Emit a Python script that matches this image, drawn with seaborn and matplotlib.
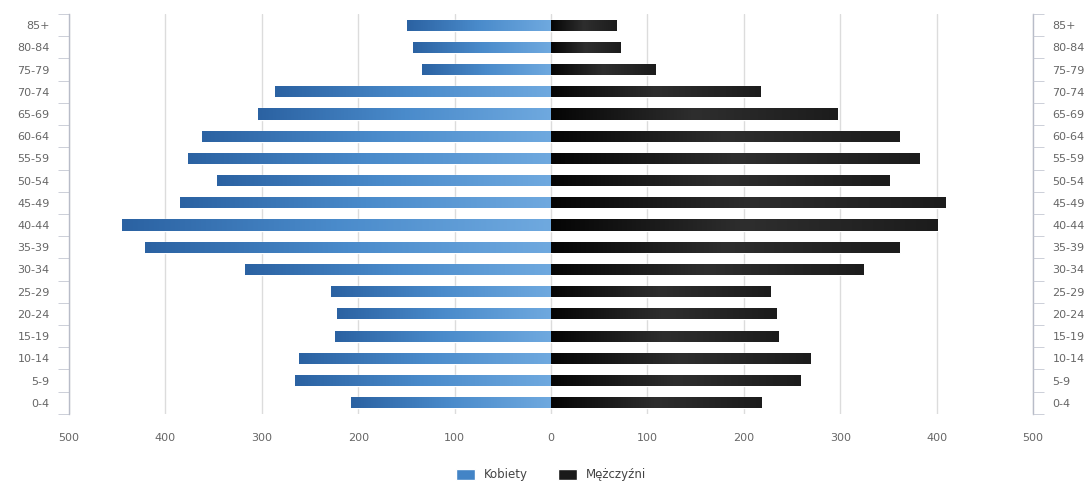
import numpy as np
import pandas as pd
import seaborn as sns
import matplotlib
matplotlib.use('Agg')
from matplotlib import pyplot as plt
from matplotlib.colors import LinearSegmentedColormap

age_groups = ['85+', '80-84', '75-79', '70-74', '65-69', '60-64', '55-59', '50-54', '45-49',
              '40-44', '35-39', '30-34', '25-29', '20-24', '15-19', '10-14', '5-9', '0-4']
women = [149, 143, 134, 286, 304, 362, 377, 346, 385, 445, 421, 317, 228, 222, 224, 261, 266, 207]
men = [68, 72, 108, 217, 297, 362, 382, 351, 409, 401, 362, 324, 228, 234, 236, 269, 259, 218]
x_ticks = [-500, -400, -300, -200, -100, 0, 100, 200, 300, 400, 500]

df = pd.DataFrame({
    'wiek': age_groups * 2,
    'liczba': [-v for v in women] + men,
    'plec': ['Kobiety'] * len(women) + ['Mężczyźni'] * len(men),
})

sns.set_style('white')
plt.rcParams['font.family'] = ['DejaVu Sans']

fig = plt.figure(figsize=(10.92, 4.84), dpi=100)
ax = fig.add_axes([0.0632, 0.145, 0.8828, 0.826])

sns.barplot(data=df, y='wiek', x='liczba', hue='plec', order=age_groups,
            orient='h', dodge=False, width=0.5, saturation=1, ax=ax,
            palette={'Kobiety': '#4384c6', 'Mężczyźni': '#1a1a1a'})

# gradient shading like the original (dark outer end, lighter toward zero)
blue_cm = LinearSegmentedColormap.from_list('b', ['#2b62a2', '#4a8bcb', '#6fa9df'])
black_cm = LinearSegmentedColormap.from_list('k', ['#050505', '#2e2e2e', '#1c1c1c'])
grad = np.linspace(0, 1, 256).reshape(1, -1)
for p in list(ax.patches):
    x0, y0, w, h = p.get_x(), p.get_y(), p.get_width(), p.get_height()
    if w == 0:
        continue
    left, right = min(x0, x0 + w), max(x0, x0 + w)
    cm = blue_cm if left < 0 else black_cm
    im = ax.imshow(grad, cmap=cm, aspect='auto', extent=[left, right, y0 + h, y0],
                   zorder=p.get_zorder() + 0.1, interpolation='bicubic')
    im.set_clip_path(p)

ax.set_xlim(-500, 500)
ax.set_ylim(len(age_groups) - 0.5, -0.5)
ax.set_xticks(x_ticks)
ax.set_xticklabels([str(abs(t)) for t in x_ticks], color='#666666', fontsize=8)
ax.tick_params(axis='x', length=0, pad=14)
ax.xaxis.grid(True, color='#dcdcdc', linewidth=1)
ax.set_axisbelow(True)
ax.set_xlabel('')
ax.set_ylabel('')

for s in ['top', 'bottom']:
    ax.spines[s].set_visible(False)
for s in ['left', 'right']:
    ax.spines[s].set_color('#b8bcc8')
    ax.spines[s].set_linewidth(1)

bounds = np.arange(-0.5, len(age_groups), 1.0)
ax.set_yticks(range(len(age_groups)))
ax.set_yticklabels(age_groups, color='#666666', fontsize=8)
ax.set_yticks(bounds, minor=True)
ax.tick_params(axis='y', which='major', length=0, pad=14)
ax.tick_params(axis='y', which='minor', length=8, color='#c4c8d2', left=True)

ax2 = ax.twinx()
ax2.set_ylim(ax.get_ylim())
ax2.set_yticks(range(len(age_groups)))
ax2.set_yticklabels(age_groups, color='#666666', fontsize=8)
ax2.set_yticks(bounds, minor=True)
ax2.tick_params(axis='y', which='major', length=0, pad=14)
ax2.tick_params(axis='y', which='minor', length=8, color='#c4c8d2', right=True)
for s in ['top', 'bottom', 'left', 'right']:
    ax2.spines[s].set_visible(False)

ax.legend(loc='upper center', bbox_to_anchor=(0.5, -0.11), ncol=2, frameon=False,
          fontsize=8.5, handlelength=1.6, handleheight=1.0, columnspacing=2.5,
          labelcolor='#444444')

fig.savefig('out.png', dpi=100)
